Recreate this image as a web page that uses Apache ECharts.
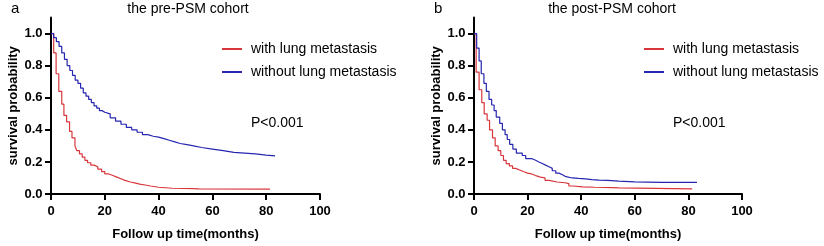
<!DOCTYPE html>
<html><head><meta charset="utf-8">
<script src="https://cdn.jsdelivr.net/npm/echarts@6/dist/echarts.min.js"></script>
<style>html,body{margin:0;padding:0;background:#fff}#c{width:824px;height:246px}</style>
</head><body><div id="c"></div>
<script>
// ---- data (months, survival probability) ----
const xTicks = [0, 20, 40, 60, 80, 100];
const yTicks = [0, 0.2, 0.4, 0.6, 0.8, 1.0];
const seriesNames = ['with lung metastasis', 'without lung metastasis'];
const panelTitles = ['the pre-PSM cohort', 'the post-PSM cohort'];
const panelLetters = ['a', 'b'];
const pValues = ['P<0.001', 'P<0.001'];

const preWithT = [0,1,1.9,2.9,4,4.8,5.8,6.9,7.8,8.9,9.6,10.6,11.6,12.6,13.6,14.8,16,17.4,18.8,20,21.5,23,24.5,26,27.5,29.5,31.5,33,35,37,40,45,53,55,81.4];
const preWithS = [1,0.88,0.75,0.64,0.56,0.49,0.45,0.39,0.35,0.30,0.27,0.25,0.23,0.21,0.195,0.18,0.17,0.155,0.14,0.125,0.115,0.105,0.095,0.085,0.075,0.068,0.062,0.056,0.05,0.042,0.036,0.034,0.032,0.03,0.03];

const preWithoutT = [0,1,2,3,4,5,6,7,8,9,10,11,12,13,14,15,16,17,18,19,20,22,24,26,28,30,32,34,36,38,40,42,44,46,48,50,53,56,60,64,68,72,76,80,83.3];
const preWithoutS = [1,0.975,0.95,0.92,0.88,0.84,0.80,0.77,0.74,0.71,0.69,0.66,0.63,0.61,0.59,0.57,0.55,0.535,0.52,0.51,0.50,0.475,0.455,0.435,0.415,0.40,0.385,0.37,0.36,0.355,0.345,0.335,0.325,0.315,0.31,0.30,0.29,0.28,0.27,0.26,0.255,0.25,0.243,0.238,0.237];

const postWithT = [0,0.8,1.9,2.9,3.8,4.9,5.8,6.9,7.9,9.0,10.0,11.0,12.0,13.2,14.4,15.6,17,18.4,20,21.5,23,24.8,26.5,28,31,34,35.4,37,40.4,45,51.6,54,81.4];
const postWithS = [1,0.76,0.65,0.57,0.50,0.46,0.40,0.35,0.30,0.27,0.24,0.21,0.19,0.175,0.16,0.15,0.14,0.13,0.125,0.115,0.105,0.10,0.085,0.075,0.07,0.065,0.05,0.045,0.042,0.04,0.038,0.032,0.032];

const postWithoutT = [0,1,1.9,2.7,3.7,4.6,5.6,6.6,7.5,8.3,9.6,10.6,11.6,12.4,13.3,14.5,15.8,18,19.3,21.7,23,24.2,25.5,26.7,28,29.2,30.5,31.7,33,34,36.6,39,41.6,44,46.6,50,54,60,70,83.2];
const postWithoutS = [1,0.91,0.83,0.75,0.69,0.64,0.59,0.555,0.52,0.48,0.44,0.40,0.37,0.34,0.31,0.28,0.255,0.24,0.22,0.21,0.20,0.19,0.18,0.17,0.16,0.145,0.13,0.12,0.11,0.10,0.097,0.094,0.09,0.087,0.085,0.08,0.075,0.073,0.073,0.073];

// ---- chart ----
const RED = '#d9363c', BLUE = '#2626b0';
const FONT = 'Liberation Sans, Arial, sans-serif';
const zip = (t, s) => t.map((v, i) => [v, s[i]]);

const grids = [
  {left: 51, top: 17.6, width: 269, height: 180.4},
  {left: 474, top: 17.6, width: 268, height: 180.4}
];
function xAx(i) {
  return {
    gridIndex: i, type: 'value', min: 0, max: 100, interval: 20,
    axisLine: {lineStyle: {color: '#000', width: 2}},
    axisTick: {length: 6, lineStyle: {color: '#000', width: 2}, customValues: xTicks},
    splitLine: {show: false},
    axisLabel: {color: '#000', fontWeight: 'bold', fontSize: 13, fontFamily: FONT, margin: 11, customValues: xTicks},
    name: 'Follow up time(months)', nameLocation: 'middle', nameGap: 34,
    nameTextStyle: {color: '#000', fontWeight: 'bold', fontSize: 13, fontFamily: FONT}
  };
}
function yAx(i) {
  return {
    gridIndex: i, type: 'value', min: 0, max: 1.1,
    axisLine: {show: true, lineStyle: {color: '#000', width: 2}},
    axisTick: {show: true, length: 6, lineStyle: {color: '#000', width: 2}, customValues: yTicks},
    splitLine: {show: false},
    axisLabel: {color: '#000', fontWeight: 'bold', fontSize: 13, fontFamily: FONT, margin: 8.5,
      customValues: yTicks, formatter: v => v.toFixed(1)},
    name: 'survival probability', nameLocation: 'middle', nameGap: 31,
    nameTextStyle: {color: '#000', fontWeight: 'bold', fontSize: 13, fontFamily: FONT}
  };
}
function line(name, data, color, i) {
  return {name, type: 'line', step: 'end', data, xAxisIndex: i, yAxisIndex: i,
    showSymbol: false, symbol: 'none', color, lineStyle: {color, width: 1.2}, animation: false};
}
function legend(left) {
  return {left, top: 42, padding: 0, orient: 'vertical', itemWidth: 20, itemHeight: 2, icon: 'rect', itemGap: 9,
    selectedMode: false, data: seriesNames,
    textStyle: {color: '#000', fontSize: 14, fontFamily: FONT, padding: [0, 0, 0, 4]}};
}
const txt = (x, y, text, size, align) => ({type: 'text', x, y,
  style: {text, fill: '#000', font: size + 'px ' + FONT, textAlign: align || 'left', textVerticalAlign: 'middle'}});

const chart = echarts.init(document.getElementById('c'), null, {renderer: 'canvas'});
chart.setOption({
  backgroundColor: '#fff',
  animation: false,
  grid: grids,
  xAxis: [xAx(0), xAx(1)],
  yAxis: [yAx(0), yAx(1)],
  legend: [legend(222), legend(644)],
  series: [
    line(seriesNames[0], zip(preWithT, preWithS), RED, 0),
    line(seriesNames[1], zip(preWithoutT, preWithoutS), BLUE, 0),
    line(seriesNames[0], zip(postWithT, postWithS), RED, 1),
    line(seriesNames[1], zip(postWithoutT, postWithoutS), BLUE, 1)
  ],
  graphic: [
    txt(11, 9, panelLetters[0], 15),
    txt(188, 9, panelTitles[0], 14, 'center'),
    txt(434, 9, panelLetters[1], 15),
    txt(612, 9, panelTitles[1], 14, 'center'),
    txt(251, 123, pValues[0], 14),
    txt(673, 123, pValues[1], 14)
  ]
});
</script></body></html>
